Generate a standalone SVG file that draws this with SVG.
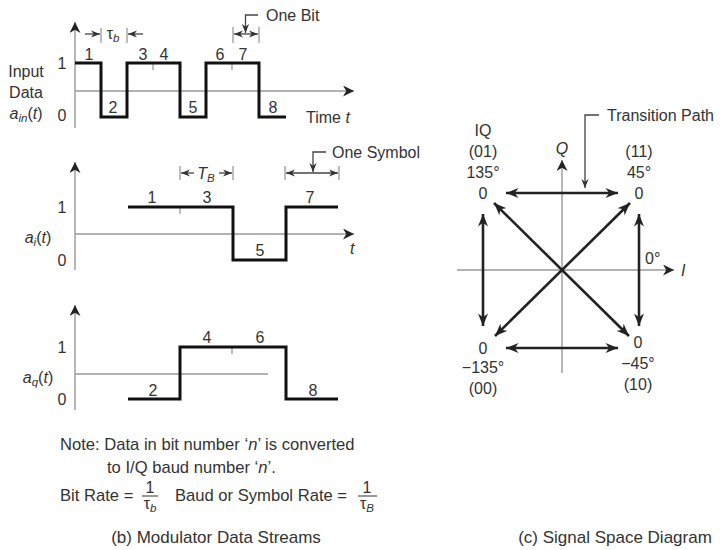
<svg xmlns="http://www.w3.org/2000/svg" width="720" height="550" viewBox="0 0 720 550">
<defs>
<style>
text{font-family:"Liberation Sans",Arial,sans-serif;font-size:16px;fill:#333}
.m{text-anchor:middle}
.i{font-style:italic}
.s{font-size:11.5px}
.n{font-size:16.6px}
.c{font-size:17px}
.ax{stroke:#999;stroke-width:1.4;fill:none}
.wave{stroke:#111;stroke-width:3;fill:none;stroke-linejoin:miter}
.tick{stroke:#999;stroke-width:1.3}
.dim{stroke:#444;stroke-width:1.3;fill:none}
.sig{stroke:#222;stroke-width:2.6;fill:none}
</style>
<marker id="ax" viewBox="0 0 10 10" refX="10" refY="5" markerWidth="12" markerHeight="11" orient="auto" markerUnits="userSpaceOnUse"><path d="M0,0 L10,5 L0,10 L3,5 z" fill="#222"/></marker>
<marker id="dm" viewBox="0 0 10 8" refX="10" refY="4" markerWidth="9" markerHeight="7.5" orient="auto-start-reverse" markerUnits="userSpaceOnUse"><path d="M0,0 L10,4 L0,8 L3,4 z" fill="#333"/></marker>
<marker id="sg" viewBox="0 0 10 8" refX="10" refY="4" markerWidth="13" markerHeight="10" orient="auto-start-reverse" markerUnits="userSpaceOnUse"><path d="M0,0 L10,4 L0,8 L3,4 z" fill="#222"/></marker>
</defs>

<g id="panel-input">
<line class="ax" x1="75" y1="128" x2="75" y2="22" marker-end="url(#ax)"/>
<line class="ax" x1="75" y1="91" x2="354" y2="91" marker-end="url(#ax)"/>
<line class="tick" x1="153" y1="63" x2="153" y2="70"/>
<line class="tick" x1="232" y1="63" x2="232" y2="70"/>
<path class="wave" d="M75,63 H101 V117 H127 V63 H180 V117 H206 V63 H259 V117 H286"/>
<text class="m" x="26" y="77">Input</text>
<text class="m" x="26" y="98">Data</text>
<text class="m" x="26" y="119"><tspan class="i">a</tspan><tspan class="i s" dy="3">in</tspan><tspan dy="-3">(</tspan><tspan class="i">t</tspan>)</text>
<text class="m" x="62" y="69">1</text>
<text class="m" x="62" y="121">0</text>
<text class="m" x="89" y="60">1</text>
<text class="m" x="113" y="113">2</text>
<text class="m" x="143" y="60">3</text>
<text class="m" x="164" y="60">4</text>
<text class="m" x="193" y="113">5</text>
<text class="m" x="220" y="60">6</text>
<text class="m" x="243" y="60">7</text>
<text class="m" x="273" y="113">8</text>
<text x="306" y="123">Time <tspan class="i">t</tspan></text>
<line class="tick" x1="101" y1="28" x2="101" y2="43"/>
<line class="tick" x1="127" y1="28" x2="127" y2="43"/>
<line class="dim" x1="85" y1="34" x2="100" y2="34" marker-end="url(#dm)"/>
<line class="dim" x1="143" y1="34" x2="128" y2="34" marker-end="url(#dm)"/>
<text class="m" x="113" y="39">τ<tspan class="i s" dy="3">b</tspan></text>
<line class="tick" x1="233" y1="27" x2="233" y2="43"/>
<line class="tick" x1="259" y1="27" x2="259" y2="43"/>
<line class="dim" x1="234" y1="34" x2="258" y2="34" marker-start="url(#dm)" marker-end="url(#dm)"/>
<polyline class="dim" points="258,15 245.5,15 245.5,33" marker-end="url(#dm)"/>
<text x="266" y="21">One Bit</text>
</g>

<g id="panel-i">
<line class="ax" x1="75" y1="270" x2="75" y2="162" marker-end="url(#ax)"/>
<line class="ax" x1="75" y1="234" x2="354" y2="234" marker-end="url(#ax)"/>
<line class="tick" x1="180" y1="207" x2="180" y2="214"/>
<path class="wave" d="M128,207 H233 V260 H286 V207 H338"/>
<text class="m" x="38" y="243"><tspan class="i">a</tspan><tspan class="i s" dy="3">i</tspan><tspan dy="-3">(</tspan><tspan class="i">t</tspan>)</text>
<text class="m" x="62" y="213">1</text>
<text class="m" x="62" y="266">0</text>
<text class="m" x="152" y="203">1</text>
<text class="m" x="207" y="203">3</text>
<text class="m" x="260" y="256">5</text>
<text class="m" x="310" y="203">7</text>
<text class="i" x="350" y="254">t</text>
<line class="tick" x1="180" y1="166" x2="180" y2="180"/>
<line class="tick" x1="233" y1="166" x2="233" y2="180"/>
<line class="dim" x1="194" y1="173" x2="181" y2="173" marker-end="url(#dm)"/>
<line class="dim" x1="219" y1="173" x2="232" y2="173" marker-end="url(#dm)"/>
<text class="m i" x="206" y="179">T<tspan class="s" dy="3">B</tspan></text>
<line class="tick" x1="285" y1="166" x2="285" y2="180"/>
<line class="tick" x1="339" y1="166" x2="339" y2="180"/>
<line class="dim" x1="286" y1="173" x2="338" y2="173" marker-start="url(#dm)" marker-end="url(#dm)"/>
<polyline class="dim" points="326,152 313,152 313,172" marker-end="url(#dm)"/>
<text x="332" y="158">One Symbol</text>
</g>

<g id="panel-q">
<line class="ax" x1="75" y1="410" x2="75" y2="305" marker-end="url(#ax)"/>
<line class="ax" x1="75" y1="374" x2="268" y2="374"/>
<line class="tick" x1="232" y1="347" x2="232" y2="354"/>
<path class="wave" d="M128,399 H180 V347 H286 V399 H338"/>
<text class="m" x="38" y="383"><tspan class="i">a</tspan><tspan class="i s" dy="3">q</tspan><tspan dy="-3">(</tspan><tspan class="i">t</tspan>)</text>
<text class="m" x="62" y="353">1</text>
<text class="m" x="62" y="405">0</text>
<text class="m" x="153" y="396">2</text>
<text class="m" x="207" y="343">4</text>
<text class="m" x="260" y="343">6</text>
<text class="m" x="313" y="396">8</text>
</g>

<g id="notes">
<text class="n" x="60" y="450">Note: Data in bit number ‘<tspan class="i">n</tspan>’ is converted</text>
<text class="n" x="107" y="473">to I/Q baud number ‘<tspan class="i">n</tspan>’.</text>
<text class="n" x="60" y="501">Bit Rate =</text>
<text class="m" x="150" y="493">1</text>
<line x1="142" y1="496" x2="158" y2="496" stroke="#333" stroke-width="1"/>
<text class="m" x="150" y="509">τ<tspan class="i s" dy="3">b</tspan></text>
<text class="n" x="175" y="501">Baud or Symbol Rate =</text>
<text class="m" x="367" y="493">1</text>
<line x1="358" y1="496" x2="377" y2="496" stroke="#333" stroke-width="1"/>
<text class="m" x="367" y="509">τ<tspan class="i s" dy="3">B</tspan></text>
<text class="m c" x="216" y="543">(b) Modulator Data Streams</text>
</g>

<g id="signal-space">
<line class="ax" x1="562" y1="373" x2="562" y2="160" marker-end="url(#ax)"/>
<line class="ax" x1="457" y1="270" x2="674" y2="270" marker-end="url(#ax)"/>
<text class="i m" x="562" y="154">Q</text>
<text class="i" x="681" y="276">I</text>
<text class="m" x="483" y="136">IQ</text>
<text class="m" x="483" y="157">(01)</text>
<text class="m" x="483" y="178">135°</text>
<text class="m" x="483" y="199">0</text>
<text class="m" x="639" y="157">(11)</text>
<text class="m" x="639" y="178">45°</text>
<text class="m" x="639" y="199">0</text>
<text class="m" x="483" y="354">0</text>
<text class="m" x="483" y="373">−135°</text>
<text class="m" x="483" y="394">(00)</text>
<text class="m" x="638" y="348">0</text>
<text class="m" x="638" y="369">−45°</text>
<text class="m" x="638" y="390">(10)</text>
<text x="645" y="264">0°</text>
<text x="607" y="121">Transition Path</text>
<text class="m c" x="615" y="543">(c) Signal Space Diagram</text>
</g>

<g id="connectors">
<line class="sig" x1="506" y1="193" x2="618" y2="193" marker-start="url(#sg)" marker-end="url(#sg)"/>
<line class="sig" x1="506" y1="348" x2="618" y2="348" marker-start="url(#sg)" marker-end="url(#sg)"/>
<line class="sig" x1="483" y1="214" x2="483" y2="326" marker-start="url(#sg)" marker-end="url(#sg)"/>
<line class="sig" x1="639" y1="214" x2="639" y2="326" marker-start="url(#sg)" marker-end="url(#sg)"/>
<line class="sig" x1="494" y1="203" x2="629" y2="336" marker-start="url(#sg)" marker-end="url(#sg)"/>
<line class="sig" x1="495" y1="336" x2="630" y2="203" marker-start="url(#sg)" marker-end="url(#sg)"/>
<polyline class="dim" points="599,115 585,115 585,188" marker-end="url(#dm)"/>
</g>
</svg>
